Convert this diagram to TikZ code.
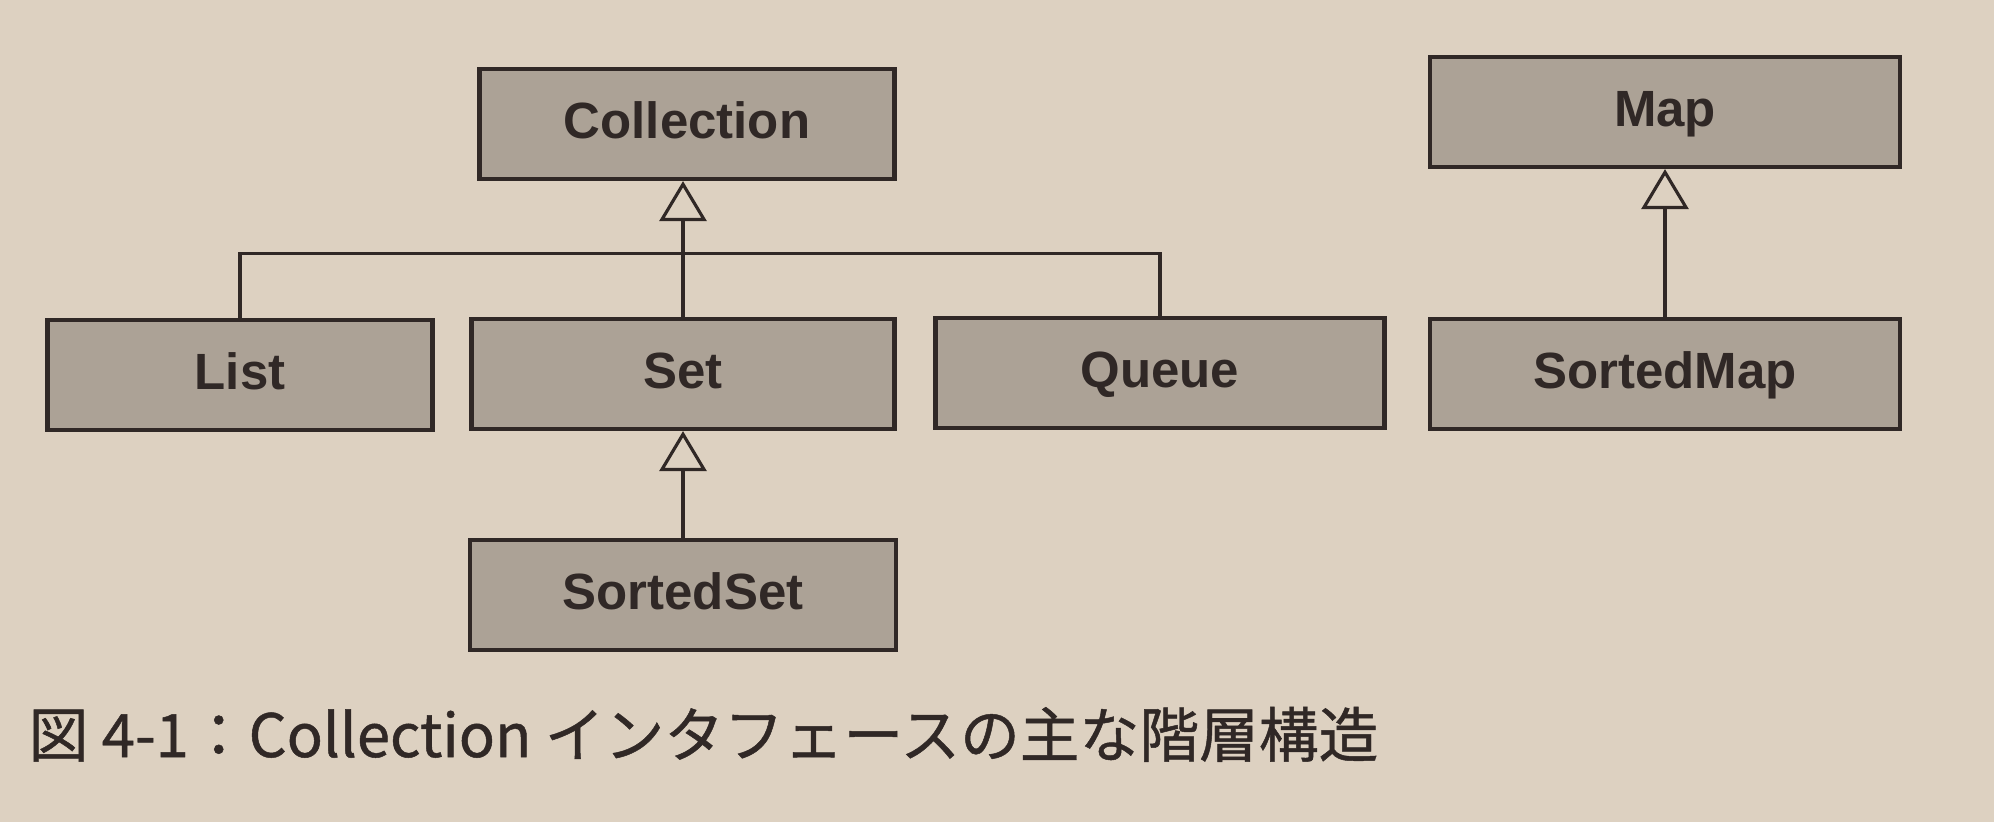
\documentclass[tikz,border=0pt]{standalone}
\usepackage{fontspec}
\setmainfont{Liberation Sans}
\newfontfamily\jpfont[FakeBold=0.8]{Noto Sans CJK JP}
\usepackage{xcolor}
\usetikzlibrary{arrows.meta}
\definecolor{paper}{RGB}{221,209,193}
\definecolor{halftone}{RGB}{172,162,150}
\definecolor{ink}{RGB}{48,40,38}
\tikzset{
    iface-box/.style = {draw=ink, fill=halftone, line width=1.2pt, rectangle, minimum height=1.1cm, text height=11pt, text depth=3pt, text=ink, font=\fontsize{14.5}{17}\selectfont\bfseries},
    inherit-line/.style = {draw=ink, line width=0.9pt, -{Triangle[open, length=0.4cm, width=0.47cm, line width=0.9pt]}},
    caption-text/.style = {text=ink, anchor=base west, inner sep=0pt, font=\jpfont\fontsize{17}{20}\selectfont},
}
\begin{document}
\begin{tikzpicture}
\fill[paper] (0,0) rectangle (19.94,-8.22);
\useasboundingbox (0,0) rectangle (19.94,-8.22);
% Collection hierarchy
\node[iface-box, minimum width=4.15cm] (collection) at (6.87,-1.24) {Collection};
\node[iface-box, minimum width=3.85cm] (list) at (2.40,-3.75) {List};
\node[iface-box, minimum width=4.23cm] (set) at (6.83,-3.74) {Set};
\node[iface-box, minimum width=4.49cm] (queue) at (11.60,-3.73) {Queue};
\node[iface-box, minimum width=4.26cm] (sortedset) at (6.83,-5.95) {SortedSet};
% Map hierarchy
\node[iface-box, minimum width=4.7cm] (map) at (16.65,-1.12) {Map};
\node[iface-box, minimum width=4.7cm] (sortedmap) at (16.65,-3.74) {SortedMap};

\draw[ink, line width=0.9pt] (list.north) -- ++(0,0.64) -| (queue.north);
\draw[inherit-line] (set.north) -- (set.north |- collection.south);
\draw[inherit-line] (sortedset.north) -- (set.south);
\draw[inherit-line] (sortedmap.north) -- (map.south);

\node[caption-text] (caption) at (0.28,-7.57) {図 4-1：Collection インタフェースの主な階層構造};
\end{tikzpicture}
\end{document}
